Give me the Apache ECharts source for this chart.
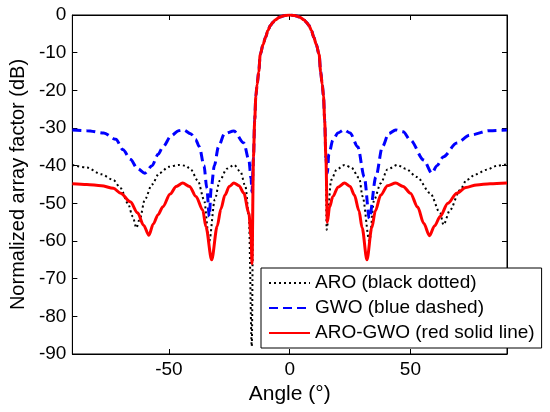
<!DOCTYPE html>
<html>
<head>
<meta charset="utf-8">
<script src="https://cdn.jsdelivr.net/npm/echarts@6/dist/echarts.min.js"></script>
<style>
html,body{margin:0;padding:0;background:#fff;}
#chart{width:550px;height:412px;}
</style>
</head>
<body>
<div id="chart"></div>
<script>
// Tick labels
const xTicks = [-50, 0, 50];

// ARO (black dotted)
const aroAngle = [-90,-84,-78,-73,-70,-67,-65,-63.5,-62,-60,-57,-54,-50,-46,-43,-41,-38,-35.5,-33.3,-31,-29,-26,-23,-20.4,-18.3,-16.9,-15.7,-15,
  -14.5,-14,-13.5,-12.8,-12.2,-11,-10,-9,-8,-7,-6,-4,-2,0,2,4,6,7,8,9,10,11,12.2,12.8,13.5,14,14.5,
  15,15.3,17.2,19.5,22.7,25.5,28.8,30.2,33,35,37.7,40.5,44.6,48,52.7,58.2,62.3,63.7,66.4,70.5,73.3,77,81.5,86,90];
const aroDb = [-39.8,-40.5,-42.3,-43.8,-46,-50,-53.5,-56.5,-54,-49,-45,-42,-40.3,-39.8,-40,-41,-44,-49,-60,-49,-44,-40.8,-39.8,-41.6,-45.6,-53.5,-88,-38,
  -28,-21.5,-18.5,-15,-10.5,-7.8,-5.9,-4.1,-2.8,-2,-1.3,-0.5,-0.1,0,-0.1,-0.5,-1.3,-2,-2.8,-4.1,-5.9,-7.8,-10.5,-15,-18.5,-21.5,-28,
  -38,-57,-43.8,-41,-39.8,-40.5,-43.3,-48.2,-60,-49,-44.7,-41,-39.8,-40.8,-43,-47.3,-52.6,-55.7,-51.8,-46.5,-43.8,-42.3,-41.1,-40,-39.6];

// GWO (blue dashed)
const gwoAngle = [-90,-84,-77,-72,-69,-66,-63,-60,-57,-54.5,-52.5,-49,-46,-44,-41,-39,-37.4,-35.5,-34.3,-33.3,-32.5,-31.2,-29.5,-27,-23.1,-19,-16.9,-16,-15.6,-15,
  -14.5,-14,-13.5,-12.8,-12.2,-11,-10,-9,-8,-7,-6,-4,-2,0,2,4,6,7,8,9,10,11,12.2,12.8,13.5,14,14.5,
  15,15.6,16.2,17.9,20,22.5,25,28.2,30.9,33,35.7,38.4,41,43.9,47,50,55.5,58.9,61,63.7,69.2,74.6,82.8,90];
const gwoDb = [-30.5,-30.7,-31.3,-33,-35.8,-38.3,-40.8,-42,-40,-37,-35,-32,-30.7,-30.5,-31.5,-33,-35,-40,-46,-53.5,-46,-40,-35,-31.5,-30.8,-34,-38.5,-43.4,-47,-38,
  -28,-21.5,-18.5,-15,-10.5,-7.8,-5.9,-4.1,-2.8,-2,-1.3,-0.5,-0.1,0,-0.1,-0.5,-1.3,-2,-2.8,-4.1,-5.9,-7.8,-10.5,-15,-18.5,-21.5,-28,
  -38,-42,-37,-33.2,-31.3,-30.5,-31.3,-35,-43,-54,-43,-35,-31.5,-30.5,-31,-33.2,-38.5,-42,-40,-37.6,-34,-31.9,-30.7,-30.5];

// ARO-GWO (red solid line)
const hybAngle = [-90,-84,-78,-73,-70,-66,-63,-60.5,-58.3,-56.5,-54.5,-52.5,-49.5,-47,-44.3,-41.5,-38.8,-36,-34.7,-32.3,-30,-28.5,-26.8,-25,-23.1,-21,-19,-16.9,-16,-15.6,-15,
  -14.5,-14,-13.5,-12.8,-12.2,-11,-10,-9,-8,-7,-6,-4,-2,0,2,4,6,7,8,9,10,11,12.2,12.8,13.5,14,14.5,
  15,15.6,16.5,17.9,20,22.7,25,26.8,28.7,30,32,34,35.5,37.7,40.5,43.9,47,50,53,55.5,57.9,60,62.3,65.5,69.2,73,77.4,83,90];
const hybDb = [-44.8,-45,-45.3,-46,-47.3,-49.6,-52.5,-55.8,-58.5,-55.5,-53,-50.9,-47.5,-45.5,-44.6,-45.5,-48.2,-51.8,-56.2,-65,-56,-51.5,-47.8,-45.5,-44.6,-45.3,-47.3,-52.6,-58.9,-66,-38,
  -28,-21.5,-18.5,-15,-10.5,-7.8,-5.9,-4.1,-2.8,-2,-1.3,-0.5,-0.1,0,-0.1,-0.5,-1.3,-2,-2.8,-4.1,-5.9,-7.8,-10.5,-15,-18.5,-21.5,-28,
  -38,-55,-51,-48.2,-45.7,-44.6,-45.5,-47.8,-52,-56.5,-65,-56.5,-52,-47.8,-45.3,-44.6,-45.5,-47.3,-51,-55.3,-58.6,-56,-53.5,-50,-47.3,-45.8,-45.1,-44.8,-44.6];

const pairs = (a, b) => a.map((v, i) => [v, b[i]]);
const FONT = 'Liberation Sans, Arial, Helvetica, sans-serif';

const chart = echarts.init(document.getElementById('chart'), null, {renderer: 'canvas'});
chart.setOption({
  animation: false,
  backgroundColor: '#fff',
  grid: {left: 69, top: 15, right: 43, bottom: 58, show: true, borderColor: '#000', borderWidth: 1, backgroundColor: 'transparent'},
  xAxis: [{
    type: 'value', min: -90, max: 90, position: 'bottom',
    name: 'Angle (°)', nameLocation: 'middle', nameGap: 27,
    nameTextStyle: {fontFamily: FONT, fontSize: 21, color: '#000'},
    axisLine: {onZero: false, lineStyle: {color: '#000', width: 1}},
    axisTick: {inside: true, length: 5, customValues: xTicks, lineStyle: {color: '#000'}},
    axisLabel: {customValues: xTicks, fontFamily: FONT, fontSize: 19, color: '#000', margin: 6},
    splitLine: {show: false}
  }, {
    type: 'value', min: -90, max: 90, position: 'top',
    axisLine: {onZero: false, lineStyle: {color: '#000', width: 1}},
    axisTick: {inside: true, length: 5, customValues: xTicks, lineStyle: {color: '#000'}},
    axisLabel: {show: false},
    splitLine: {show: false}
  }],
  yAxis: [{
    type: 'value', min: -90, max: 0, interval: 10, position: 'left',
    name: 'Normalized array factor (dB)', nameLocation: 'middle', nameGap: 41,
    nameTextStyle: {fontFamily: FONT, fontSize: 20, color: '#000'},
    axisLine: {show: true, onZero: false, lineStyle: {color: '#000', width: 1}},
    axisTick: {show: true, inside: true, length: 5, lineStyle: {color: '#000'}},
    axisLabel: {fontFamily: FONT, fontSize: 19, color: '#000', margin: 6},
    splitLine: {show: false}
  }, {
    type: 'value', min: -90, max: 0, interval: 10, position: 'right',
    axisLine: {show: true, onZero: false, lineStyle: {color: '#000', width: 1}},
    axisTick: {show: true, inside: true, length: 5, lineStyle: {color: '#000'}},
    axisLabel: {show: false},
    splitLine: {show: false}
  }],
  legend: {
    orient: 'vertical', left: 261, top: 268,
    padding: [5, 7, 5, 7], itemGap: 5, itemWidth: 41, itemHeight: 14,
    backgroundColor: '#fff', borderColor: '#000', borderWidth: 1, borderRadius: 0,
    itemStyle: {opacity: 0, borderWidth: 0},
    textStyle: {fontFamily: FONT, fontSize: 19, color: '#000', lineHeight: 20},
    data: ['ARO (black dotted)', 'GWO (blue dashed)', 'ARO-GWO (red solid line)']
  },
  series: [{
    name: 'ARO (black dotted)', type: 'line', data: pairs(aroAngle, aroDb),
    symbol: 'none', showSymbol: false, smooth: 0.3, smoothMonotone: 'x',
    lineStyle: {color: '#000', width: 2, type: [2, 3]}, itemStyle: {color: '#000'}
  }, {
    name: 'GWO (blue dashed)', type: 'line', data: pairs(gwoAngle, gwoDb),
    symbol: 'none', showSymbol: false, smooth: 0.3, smoothMonotone: 'x',
    lineStyle: {color: '#0000ff', width: 3, type: [9, 5]}, itemStyle: {color: '#0000ff'}
  }, {
    name: 'ARO-GWO (red solid line)', type: 'line', data: pairs(hybAngle, hybDb),
    symbol: 'none', showSymbol: false, smooth: 0.3, smoothMonotone: 'x',
    lineStyle: {color: '#ff0000', width: 3, type: 'solid'}, itemStyle: {color: '#ff0000'}
  }]
});
</script>
</body>
</html>
